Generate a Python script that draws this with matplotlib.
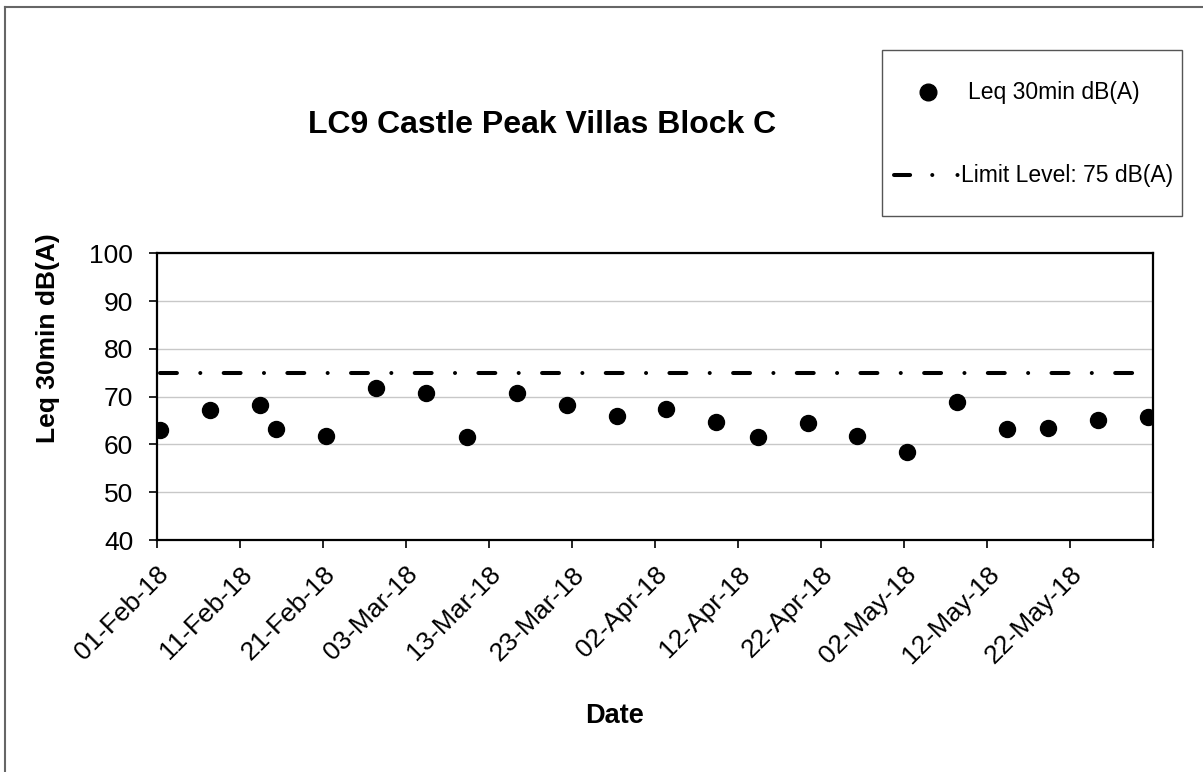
import datetime as dt

import matplotlib
matplotlib.use("Agg")
import matplotlib.pyplot as plt
from matplotlib.lines import Line2D

plt.rcParams["font.family"] = ["Liberation Sans", "DejaVu Sans"]

# measurement dates (Feb-May 2018) and Leq 30min readings
dates = [
    "2018-02-01", "2018-02-07", "2018-02-13", "2018-02-15", "2018-02-21",
    "2018-02-27", "2018-03-05", "2018-03-10", "2018-03-16", "2018-03-22",
    "2018-03-28", "2018-04-03", "2018-04-09", "2018-04-14", "2018-04-20",
    "2018-04-26", "2018-05-02", "2018-05-08", "2018-05-14", "2018-05-19",
    "2018-05-25", "2018-05-31",
]
leq = [
    63.1, 67.3, 68.2, 63.3, 61.8, 71.8, 70.8, 61.5, 70.8, 68.3, 66.0,
    67.4, 64.8, 61.6, 64.4, 61.8, 58.5, 68.8, 63.2, 63.5, 65.2, 65.8,
]
limit_level = 75
tick_dates = [
    "2018-02-01", "2018-02-11", "2018-02-21", "2018-03-03", "2018-03-13",
    "2018-03-23", "2018-04-02", "2018-04-12", "2018-04-22", "2018-05-02",
    "2018-05-12", "2018-05-22", "2018-06-01",
]

x = [dt.datetime.fromisoformat(d) + dt.timedelta(hours=10) for d in dates]
ticks = [dt.datetime.fromisoformat(d) for d in tick_dates]
labels = [t.strftime("%d-%b-%y") for t in ticks[:-1]] + [""]

DASH = (4.2, 5.8, 0.01, 5.8)

fig = plt.figure(figsize=(12.03, 7.72), dpi=100)
ax = fig.add_axes([0.1303, 0.3005, 0.8279, 0.3714])

ax.plot([x[0], x[-1]], [limit_level, limit_level], color="black",
        linewidth=2.9, dashes=DASH, dash_capstyle="round", zorder=2)
ax.plot(x, leq, linestyle="none", marker="o", markersize=11.5,
        color="black", zorder=3)

ax.set_xlim(ticks[0], ticks[-1])
ax.set_ylim(40, 100)
ax.set_yticks(range(40, 101, 10))
ax.set_xticks(ticks)
ax.set_xticklabels(labels, rotation=45, ha="right", rotation_mode="anchor")
ax.tick_params(labelsize=19, length=6, width=1.2, direction="out")
ax.tick_params(axis="y", pad=11)
ax.tick_params(axis="x", pad=10)
ax.grid(axis="y", color="#c8c8c8", linewidth=1)
for s in ax.spines.values():
    s.set_linewidth(1.6)

fig.text(0.4505, 0.8277, "LC9 Castle Peak Villas Block C", ha="center",
         va="baseline", fontsize=23, fontweight="bold")
fig.text(0.040, 0.562, "Leq 30min dB(A)", rotation=90, ha="center",
         va="center", fontsize=19, fontweight="bold")
fig.text(0.511, 0.0635, "Date", ha="center", va="baseline", fontsize=19.5,
         fontweight="bold")

# legend box, drawn by hand to match the original spacing
box = plt.Rectangle((0.733, 0.7202), 0.2495, 0.215, transform=fig.transFigure,
                    facecolor="white", edgecolor="#555555", linewidth=1)
fig.add_artist(box)
fig.add_artist(Line2D([0.7714], [0.8808], transform=fig.transFigure,
                      linestyle="none", marker="o", markersize=12,
                      color="black"))
# legend sample of the limit line: dash, dot, dot (as in the original)
fig.add_artist(Line2D([0.7431, 0.7972], [0.7733, 0.7733],
                      transform=fig.transFigure, color="black",
                      linewidth=2.9, dashes=(4.0, 5.5, 0.01, 6.25, 0.01, 5),
                      dash_capstyle="round"))
fig.text(0.8046, 0.8808, "Leq 30min dB(A)", ha="left", va="center",
         fontsize=16.5)
fig.text(0.7988, 0.7733, "Limit Level: 75 dB(A)", ha="left", va="center",
         fontsize=16.5)

# outer chart border (only top and left show)
fig.add_artist(Line2D([0.004, 0.004], [0, 0.991], transform=fig.transFigure,
                      color="#666666", linewidth=1.5))
fig.add_artist(Line2D([0.004, 1], [0.991, 0.991], transform=fig.transFigure,
                      color="#666666", linewidth=1.5))

fig.savefig("out.png", dpi=100)
